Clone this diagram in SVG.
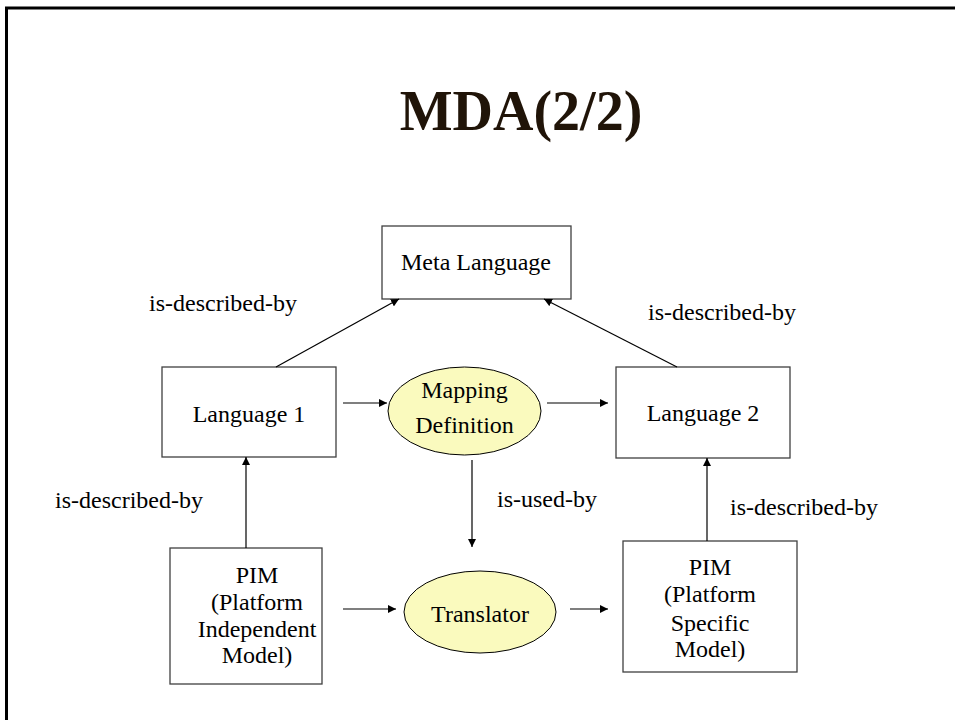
<svg xmlns="http://www.w3.org/2000/svg" width="955" height="720" viewBox="0 0 955 720">
<style>
  .box { fill: #ffffff; stroke: #404040; stroke-width: 1.3; }
  .ell { fill: #fafabe; stroke: #000000; stroke-width: 1; }
  .t { font-family: "Liberation Serif", "Times New Roman", serif; font-size: 24px; fill: #000000; text-anchor: middle; }
  .lbl { font-family: "Liberation Serif", "Times New Roman", serif; font-size: 24px; fill: #000000; }
  .title { font-family: "Liberation Serif", "Times New Roman", serif; font-size: 56px; font-weight: bold; fill: #201408; text-anchor: middle; }
  .conn line { stroke: #000000; stroke-width: 1.2; fill: none; marker-end: url(#ah); }
</style>
<defs>
  <marker id="ah" viewBox="0 0 10 10" refX="10" refY="5" markerWidth="8" markerHeight="8" markerUnits="userSpaceOnUse" orient="auto">
    <path d="M0,0 L10,5 L0,10 z" fill="#000000"/>
  </marker>
</defs>
<rect x="0" y="0" width="955" height="720" fill="#ffffff"/>
<rect x="6.5" y="8" width="960" height="730" fill="none" stroke="#000000" stroke-width="3"/>

<g id="title">
  <text class="title" x="521" y="130">MDA(2/2)</text>
</g>

<g id="meta-language">
  <rect class="box" x="382" y="226" width="189" height="73"/>
  <text class="t" x="476" y="270">Meta Language</text>
</g>

<g id="language-1">
  <rect class="box" x="162" y="367" width="174" height="90"/>
  <text class="t" x="249" y="422">Language 1</text>
</g>

<g id="mapping-definition">
  <ellipse class="ell" cx="464.5" cy="411" rx="76.5" ry="44"/>
  <text class="t" x="464.5" y="398">Mapping</text>
  <text class="t" x="464.5" y="433">Definition</text>
</g>

<g id="language-2">
  <rect class="box" x="616" y="367" width="174" height="91"/>
  <text class="t" x="703" y="421">Language 2</text>
</g>

<g id="pim">
  <rect class="box" x="170" y="548" width="152" height="136"/>
  <text class="t" x="257" y="583">PIM</text>
  <text class="t" x="257" y="610">(Platform</text>
  <text class="t" x="257" y="637">Independent</text>
  <text class="t" x="257" y="663">Model)</text>
</g>

<g id="translator">
  <ellipse class="ell" cx="480" cy="612" rx="76" ry="41"/>
  <text class="t" x="480" y="622">Translator</text>
</g>

<g id="psm">
  <rect class="box" x="623" y="541" width="174" height="131"/>
  <text class="t" x="710" y="575">PIM</text>
  <text class="t" x="710" y="602">(Platform</text>
  <text class="t" x="710" y="631">Specific</text>
  <text class="t" x="710" y="657">Model)</text>
</g>

<g id="connectors" class="conn">
  <line x1="276" y1="367" x2="399" y2="299"/>
  <line x1="677" y1="367" x2="544" y2="299"/>
  <line x1="343" y1="403" x2="387" y2="403"/>
  <line x1="547" y1="403" x2="608" y2="403"/>
  <line x1="246" y1="548" x2="246" y2="457"/>
  <line x1="707" y1="541" x2="707" y2="458"/>
  <line x1="472" y1="460" x2="472" y2="547"/>
  <line x1="343" y1="609" x2="396" y2="609"/>
  <line x1="570" y1="609" x2="608" y2="609"/>
</g>

<g id="labels">
  <text class="lbl" x="149" y="311">is-described-by</text>
  <text class="lbl" x="648" y="320">is-described-by</text>
  <text class="lbl" x="55" y="508">is-described-by</text>
  <text class="lbl" x="497" y="507">is-used-by</text>
  <text class="lbl" x="730" y="515">is-described-by</text>
</g>
</svg>
